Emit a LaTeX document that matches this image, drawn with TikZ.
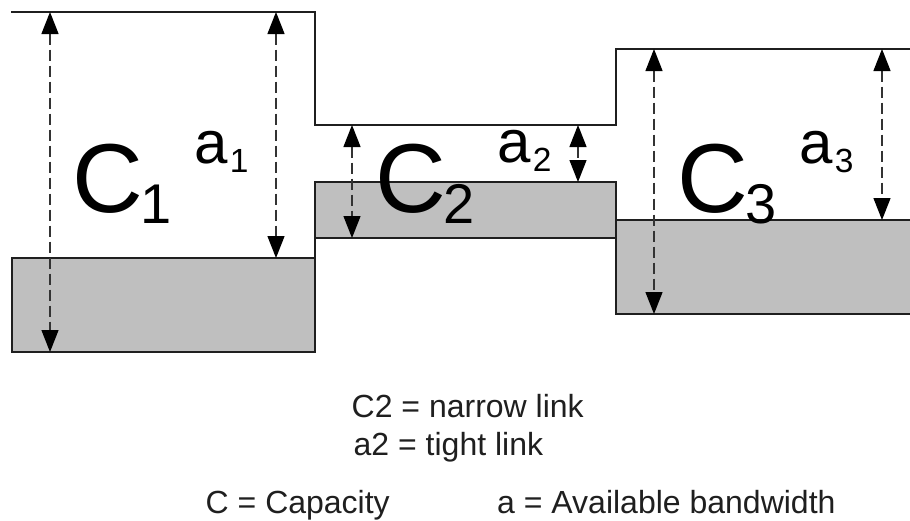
\documentclass[tikz,border=0pt]{standalone}
\usepackage{fontspec}
\setmainfont{Liberation Sans}
\usetikzlibrary{arrows.meta}
\begin{document}
\begin{tikzpicture}[x=1pt,y=-1pt,
  outline/.style={line width=1.8pt, black!88, line cap=rect},
  usedbw/.style={fill=black!25},
  dim/.style={line width=1.3pt, black!80, dash pattern=on 11pt off 5pt,
    {Triangle[length=22pt,width=17pt,black]}-{Triangle[length=22pt,width=17pt,black]}},
  bigc/.style={inner sep=0pt, anchor=base west, font=\fontsize{98}{98}\selectfont},
  bigsub/.style={inner sep=0pt, anchor=base west, font=\fontsize{56}{56}\selectfont},
  smalla/.style={inner sep=0pt, anchor=base west, font=\fontsize{60}{60}\selectfont},
  smallsub/.style={inner sep=0pt, anchor=base west, font=\fontsize{33.5}{33.5}\selectfont},
  legend/.style={inner sep=0pt, anchor=base west, font=\fontsize{32}{32}\selectfont, black!88}]
\useasboundingbox[fill=white] (0,0) rectangle (910,520);

% used bandwidth (grey)
\fill[usedbw] (12,258) rectangle (315,352);
\fill[usedbw] (315,182) rectangle (616,238);
\fill[usedbw] (616,220) rectangle (910,314);

% capacity profile
\draw[outline] (12,12) -- (315,12) -- (315,125) -- (616,125) -- (616,49) -- (910,49);
% link 1 box
\draw[outline] (315,182) -- (315,352) -- (12,352) -- (12,258) -- (315,258);
% link 2 box
\draw[outline] (315,182) -- (616,182);
\draw[outline] (315,238) -- (616,238);
% link 3 box
\draw[outline] (616,182) -- (616,314) -- (910,314);
\draw[outline] (616,220) -- (910,220);

% dimension end points
\coordinate (c1t) at (50,12);   \coordinate (c1b) at (50,352);
\coordinate (a1t) at (276,12);  \coordinate (a1b) at (276,258);
\coordinate (c2t) at (352,125); \coordinate (c2b) at (352,238);
\coordinate (a2t) at (578,125); \coordinate (a2b) at (578,182);
\coordinate (c3t) at (654,49);  \coordinate (c3b) at (654,314);
\coordinate (a3t) at (882,49);  \coordinate (a3b) at (882,220);

\draw[dim] (c1t) -- (c1b);
\draw[dim] (a1t) -- (a1b);
\draw[dim] (c2t) -- (c2b);
\draw[dim] (a2t) -- (a2b);
\draw[dim] (c3t) -- (c3b);
\draw[dim] (a3t) -- (a3b);

% labels
\node[bigc] (C1) at (72,212) {C};
\node[bigsub] (C1s) at ([xshift=-3pt,yshift=-11pt]C1.base east) {1};
\node[bigc] (C2) at (375,212) {C};
\node[bigsub] (C2s) at ([xshift=-3pt,yshift=-11pt]C2.base east) {2};
\node[bigc] (C3) at (677,212) {C};
\node[bigsub] (C3s) at ([xshift=-3pt,yshift=-11pt]C3.base east) {3};

\node[smalla] (A1) at (194.5,163) {a};
\node[smallsub] (A1s) at ([xshift=1.5pt,yshift=-9pt]A1.base east) {1};
\node[smalla] (A2) at (497.5,162) {a};
\node[smallsub] (A2s) at ([xshift=1.5pt,yshift=-9pt]A2.base east) {2};
\node[smalla] (A3) at (799.5,163) {a};
\node[smallsub] (A3s) at ([xshift=1.5pt,yshift=-9pt]A3.base east) {3};

% legend
\node[legend] (L1) at (351.5,417) {C2 = narrow link};
\node[legend] (L2) at (353.5,455) {a2 = tight link};
\node[legend] (L3) at (205.5,513) {C = Capacity};
\node[legend] (L4) at (497,513) {a = Available bandwidth};
\end{tikzpicture}
\end{document}
